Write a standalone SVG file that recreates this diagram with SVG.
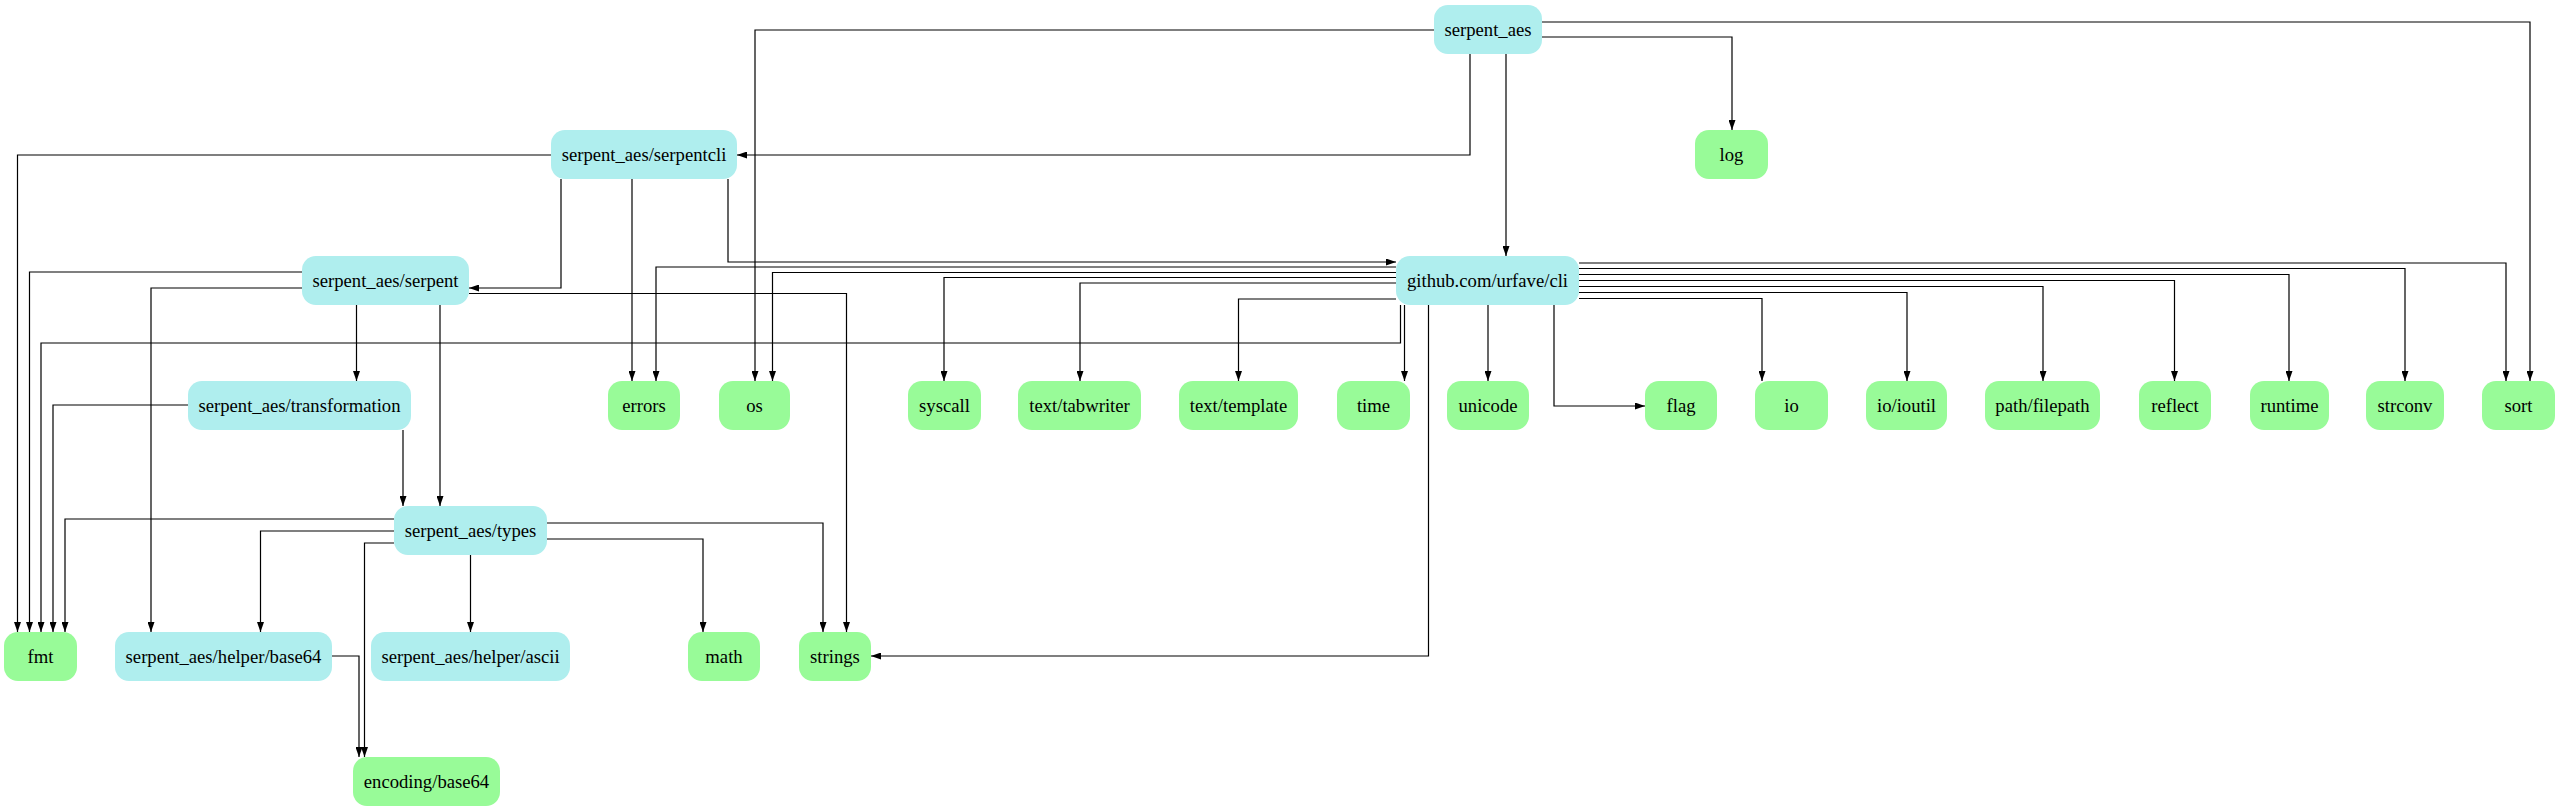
<svg xmlns="http://www.w3.org/2000/svg" width="2560" height="811" viewBox="0 0 2560 811">
<style>
.n rect{stroke:none}
.c rect{fill:#afeeee}
.g rect{fill:#98fb98}
text{font-family:"Liberation Serif","Times New Roman",serif;font-size:18.67px;fill:#000;text-anchor:middle}
#edges path{fill:none;stroke:#000;stroke-width:1.2;marker-end:url(#ah)}
</style>
<defs>
<marker id="ah" markerUnits="userSpaceOnUse" markerWidth="10" markerHeight="7" refX="10" refY="3.5" orient="auto">
<path d="M0,0 L10,3.5 L0,7 z" fill="#000"/>
</marker>
</defs>
<rect width="2560" height="811" fill="#fff"/>
<g id="edges">
<path d="M1434,30 H755 V381"/>
<path d="M1470,54 V155 H737"/>
<path d="M1506,54 V256"/>
<path d="M1542,37 H1732 V130"/>
<path d="M1542,22 H2530 V381"/>
<path d="M551,155 H17.5 V632"/>
<path d="M561,179 V288 H469"/>
<path d="M632,179 V381"/>
<path d="M728,179 V262 H1396"/>
<path d="M1396,267 H656 V381"/>
<path d="M1396,272.5 H772.5 V381"/>
<path d="M1396,277.5 H944 V381"/>
<path d="M1396,283 H1080 V381"/>
<path d="M1396,299 H1238.5 V381"/>
<path d="M1400.5,305 V343 H41 V632"/>
<path d="M1404.5,305 V381"/>
<path d="M1428.5,305 V656 H871"/>
<path d="M1488,305 V381"/>
<path d="M1554,305 V406 H1645"/>
<path d="M1579,263 H2506 V381"/>
<path d="M1579,268.5 H2405 V381"/>
<path d="M1579,274.5 H2289 V381"/>
<path d="M1579,280.5 H2174.5 V381"/>
<path d="M1579,286.5 H2043 V381"/>
<path d="M1579,292.5 H1907 V381"/>
<path d="M1579,298.5 H1762 V381"/>
<path d="M302,272 H29.5 V632"/>
<path d="M302,288 H151 V632"/>
<path d="M469,293.5 H846.5 V632"/>
<path d="M356.5,305 V381"/>
<path d="M440,305 V506"/>
<path d="M188,405 H53 V632"/>
<path d="M403,430 V506"/>
<path d="M394,519 H65 V632"/>
<path d="M394,531 H260.5 V632"/>
<path d="M394,543 H364.5 V757"/>
<path d="M470.5,555 V632"/>
<path d="M547,523 H823 V632"/>
<path d="M547,539 H703 V632"/>
<path d="M332,656 H359 V757"/>
</g>
<g id="n_serpent_aes" class="n c"><rect x="1434" y="5" width="108" height="49" rx="14"/><text x="1488" y="36">serpent_aes</text></g>
<g id="n_serpentcli" class="n c"><rect x="551" y="130" width="186" height="49" rx="14"/><text x="644" y="161">serpent_aes/serpentcli</text></g>
<g id="n_log" class="n g"><rect x="1695" y="130" width="73" height="49" rx="14"/><text x="1731.5" y="161">log</text></g>
<g id="n_serpent" class="n c"><rect x="302" y="256" width="167" height="49" rx="14"/><text x="385.5" y="287">serpent_aes/serpent</text></g>
<g id="n_cli" class="n c"><rect x="1396" y="256" width="183" height="49" rx="14"/><text x="1487.5" y="287">github.com/urfave/cli</text></g>
<g id="n_transformation" class="n c"><rect x="188" y="381" width="223" height="49" rx="14"/><text x="299.5" y="412">serpent_aes/transformation</text></g>
<g id="n_errors" class="n g"><rect x="608" y="381" width="72" height="49" rx="14"/><text x="644" y="412">errors</text></g>
<g id="n_os" class="n g"><rect x="719" y="381" width="71" height="49" rx="14"/><text x="754.5" y="412">os</text></g>
<g id="n_syscall" class="n g"><rect x="908" y="381" width="73" height="49" rx="14"/><text x="944.5" y="412">syscall</text></g>
<g id="n_tabwriter" class="n g"><rect x="1018" y="381" width="123" height="49" rx="14"/><text x="1079.5" y="412">text/tabwriter</text></g>
<g id="n_template" class="n g"><rect x="1179" y="381" width="119" height="49" rx="14"/><text x="1238.5" y="412">text/template</text></g>
<g id="n_time" class="n g"><rect x="1337" y="381" width="73" height="49" rx="14"/><text x="1373.5" y="412">time</text></g>
<g id="n_unicode" class="n g"><rect x="1447" y="381" width="82" height="49" rx="14"/><text x="1488" y="412">unicode</text></g>
<g id="n_flag" class="n g"><rect x="1645" y="381" width="72" height="49" rx="14"/><text x="1681" y="412">flag</text></g>
<g id="n_io" class="n g"><rect x="1755" y="381" width="73" height="49" rx="14"/><text x="1791.5" y="412">io</text></g>
<g id="n_ioutil" class="n g"><rect x="1866" y="381" width="81" height="49" rx="14"/><text x="1906.5" y="412">io/ioutil</text></g>
<g id="n_filepath" class="n g"><rect x="1985" y="381" width="115" height="49" rx="14"/><text x="2042.5" y="412">path/filepath</text></g>
<g id="n_reflect" class="n g"><rect x="2139" y="381" width="72" height="49" rx="14"/><text x="2175" y="412">reflect</text></g>
<g id="n_runtime" class="n g"><rect x="2250" y="381" width="79" height="49" rx="14"/><text x="2289.5" y="412">runtime</text></g>
<g id="n_strconv" class="n g"><rect x="2366" y="381" width="78" height="49" rx="14"/><text x="2405" y="412">strconv</text></g>
<g id="n_sort" class="n g"><rect x="2482" y="381" width="73" height="49" rx="14"/><text x="2518.5" y="412">sort</text></g>
<g id="n_types" class="n c"><rect x="394" y="506" width="153" height="49" rx="14"/><text x="470.5" y="537">serpent_aes/types</text></g>
<g id="n_fmt" class="n g"><rect x="4" y="632" width="73" height="49" rx="14"/><text x="40.5" y="663">fmt</text></g>
<g id="n_helper_base64" class="n c"><rect x="115" y="632" width="217" height="49" rx="14"/><text x="223.5" y="663">serpent_aes/helper/base64</text></g>
<g id="n_helper_ascii" class="n c"><rect x="371" y="632" width="199" height="49" rx="14"/><text x="470.5" y="663">serpent_aes/helper/ascii</text></g>
<g id="n_math" class="n g"><rect x="688" y="632" width="72" height="49" rx="14"/><text x="724" y="663">math</text></g>
<g id="n_strings" class="n g"><rect x="799" y="632" width="72" height="49" rx="14"/><text x="835" y="663">strings</text></g>
<g id="n_encoding_base64" class="n g"><rect x="353" y="757" width="147" height="49" rx="14"/><text x="426.5" y="788">encoding/base64</text></g>
</svg>
